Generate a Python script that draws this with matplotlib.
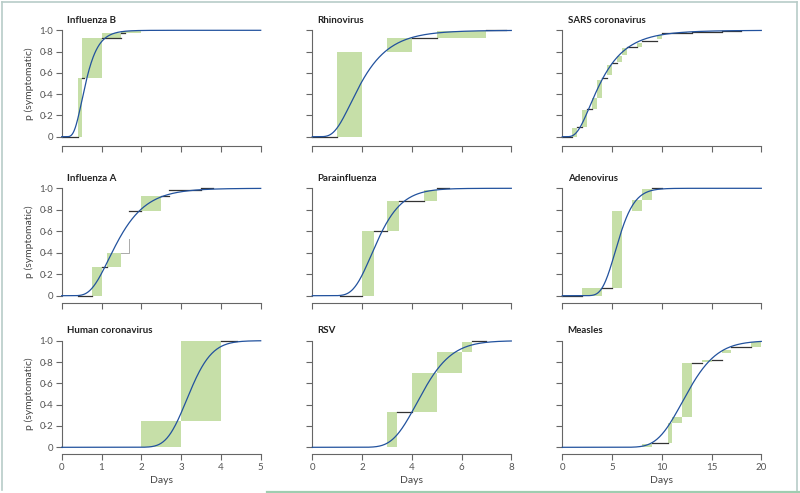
import math
import numpy as np
import matplotlib
matplotlib.use('Agg')
import matplotlib.pyplot as plt
from matplotlib.patches import Rectangle
from matplotlib.lines import Line2D
from matplotlib.ticker import FuncFormatter

plt.rcParams['font.family'] = ['Lato', 'DejaVu Sans']

# ----------------------------
# Data
# ----------------------------
names = ['Influenza B', 'Rhinovirus', 'SARS coronavirus',
         'Influenza A', 'Parainfluenza', 'Adenovirus',
         'Human coronavirus', 'RSV', 'Measles']
x_max = [5, 8, 20, 5, 8, 20, 5, 8, 20]
x_ticks = [[0, 1, 2, 3, 4, 5], [0, 2, 4, 6, 8], [0, 5, 10, 15, 20]] * 3

# fitted log-normal: median (days) and dispersion
medians = [0.6, 1.95, 3.8, 1.4, 2.6, 5.6, 3.2, 4.4, 12.5]
dispersions = [1.51, 1.62, 1.75, 1.51, 1.35, 1.26, 1.15, 1.24, 1.21]

# green boxes (x0, x1, y0, y1)
boxes = [
    [(0.4, 0.5, 0.0, 0.55), (0.5, 1.0, 0.55, 0.93), (1.0, 1.5, 0.93, 0.97), (1.5, 2.0, 0.97, 0.99)],
    [(1.0, 2.0, 0.0, 0.80), (3.0, 4.0, 0.80, 0.93), (5.0, 7.0, 0.93, 0.99)],
    [(1.0, 1.5, 0.0, 0.08), (2.0, 2.5, 0.09, 0.25), (3.0, 3.5, 0.26, 0.36), (3.5, 4.0, 0.36, 0.53),
     (4.5, 5.0, 0.58, 0.67), (5.5, 6.0, 0.70, 0.76), (6.0, 6.5, 0.77, 0.83), (7.5, 8.0, 0.84, 0.88),
     (9.5, 10.0, 0.92, 0.96), (12.0, 12.5, 0.97, 0.98)],
    [(0.75, 1.0, 0.0, 0.27), (1.13, 1.5, 0.27, 0.40), (2.0, 2.5, 0.785, 0.93)],
    [(2.0, 2.5, 0.0, 0.60), (3.0, 3.5, 0.60, 0.88), (4.5, 5.0, 0.88, 0.985)],
    [(2.0, 4.0, 0.0, 0.075), (5.0, 6.0, 0.075, 0.79), (7.0, 8.0, 0.79, 0.89), (8.0, 9.0, 0.89, 0.99)],
    [(2.0, 3.0, 0.0, 0.25), (3.0, 4.0, 0.25, 1.0)],
    [(3.0, 3.4, 0.0, 0.33), (4.0, 5.0, 0.33, 0.70), (5.0, 6.0, 0.70, 0.89), (6.0, 6.4, 0.89, 0.99)],
    [(8.0, 9.0, 0.0, 0.03), (10.6, 11.0, 0.045, 0.225), (11.0, 12.0, 0.225, 0.28), (12.0, 13.0, 0.28, 0.79),
     (14.0, 15.0, 0.80, 0.82), (16.0, 17.0, 0.88, 0.91), (19.0, 20.0, 0.94, 0.99)],
]

# dark horizontal segments (x0, x1, y)
segments = [
    [(0.0, 0.4, 0.0), (0.5, 0.55, 0.55), (1.0, 1.5, 0.93), (1.5, 1.6, 0.97)],
    [(0.0, 1.0, 0.0), (4.0, 5.0, 0.93), (7.0, 7.8, 1.0)],
    [(0.0, 1.0, 0.0), (1.5, 2.0, 0.09), (2.5, 3.0, 0.26), (4.0, 4.5, 0.55), (5.0, 5.5, 0.69),
     (6.5, 7.5, 0.84), (8.0, 9.5, 0.90), (10.0, 13.0, 0.97), (13.0, 16.0, 0.985), (16.0, 18.0, 0.995)],
    [(0.4, 0.75, 0.0), (1.0, 1.13, 0.27), (1.7, 2.0, 0.785), (2.5, 2.7, 0.93), (2.7, 3.5, 0.98), (3.5, 3.8, 1.0)],
    [(1.1, 2.0, 0.0), (2.5, 3.0, 0.60), (3.5, 4.5, 0.88), (5.0, 5.5, 1.0)],
    [(0.0, 2.0, 0.0), (4.0, 5.0, 0.075), (9.0, 10.0, 1.0)],
    [(4.0, 4.4, 1.0)],
    [(3.4, 4.0, 0.33), (6.4, 7.0, 1.0)],
    [(9.0, 10.6, 0.045), (13.0, 14.0, 0.79), (15.0, 16.0, 0.82), (17.0, 19.0, 0.94)],
]

# light grey step in the Influenza A panel (x0, x1, y0, y1)
grey_step = (1.5, 1.7, 0.40, 0.53)

# ----------------------------
# Layout
# ----------------------------
W, H = 800, 493
col_left = [61.7, 312.3, 562.3]
row_top = [30.3, 188.3, 340.7]
row_zero = [136.7, 295.7, 447.3]
ax_w = 199.0

GREEN = '#c6dfa8'
BLUE = '#22529e'
DARK = '#333333'
SPINE = '#666666'

def lognorm_cdf(x, med, disp):
    s = math.log(disp)
    out = []
    for v in x:
        if v <= 0:
            out.append(0.0)
        else:
            out.append(0.5 * (1 + math.erf(math.log(v / med) / (s * math.sqrt(2)))))
    return np.array(out)

fmt = FuncFormatter(lambda v, p: '0' if abs(v) < 1e-9 else f'{v:.1f}'.replace('.', '\u00b7'))

fig = plt.figure(figsize=(W / 100, H / 100), dpi=100)

for i, name in enumerate(names):
    r, c = divmod(i, 3)
    left = col_left[c] / W
    bottom = 1 - row_zero[r] / H
    height = (row_zero[r] - row_top[r]) / H
    ax = fig.add_axes([left, bottom, ax_w / W, height])
    ax.set_xlim(0, x_max[i])
    ax.set_ylim(0, 1)

    for (x0, x1, y0, y1) in boxes[i]:
        ax.add_patch(Rectangle((x0, y0), x1 - x0, y1 - y0, facecolor=GREEN,
                               edgecolor='none', zorder=1))
    for (x0, x1, y) in segments[i]:
        ax.plot([x0, x1], [y, y], color=DARK, lw=0.9, zorder=2, clip_on=False)
    if i == 3:
        gx0, gx1, gy0, gy1 = grey_step
        ax.plot([gx0, gx1, gx1], [gy0, gy0, gy1], color='#aaaaaa', lw=0.7, zorder=2)

    xs = np.linspace(0, x_max[i], 400)
    ax.plot(xs, lognorm_cdf(xs, medians[i], dispersions[i]), color=BLUE, lw=0.9,
            zorder=3, clip_on=False)

    for s in ['top', 'right']:
        ax.spines[s].set_visible(False)
    ax.spines['left'].set_bounds(0, 1)
    ax.spines['bottom'].set_bounds(0, x_max[i])
    ax.spines['bottom'].set_position(('outward', 7 if r == 0 else 5))
    for s in ['left', 'bottom']:
        ax.spines[s].set_color(SPINE)
        ax.spines[s].set_linewidth(0.8)

    ax.set_yticks([0, 0.2, 0.4, 0.6, 0.8, 1.0])
    ax.set_xticks(x_ticks[i])
    ax.yaxis.set_major_formatter(fmt)
    ax.tick_params(direction='out', length=4, width=0.8, color=SPINE,
                   labelsize=7, labelcolor='#555555', pad=2)
    if c != 0:
        ax.tick_params(axis='y', labelleft=False)
    else:
        ax.set_ylabel('p (symptomatic)', fontsize=7.5, color='#444444', labelpad=4)
    if r != 2:
        ax.tick_params(axis='x', labelbottom=False)
    else:
        ax.set_xlabel('Days', fontsize=7.5, color='#444444', labelpad=3)

    ax.text(0.027, 1.05, name, transform=ax.transAxes, fontsize=7,
            fontweight='bold', color='#222222', ha='left', va='bottom')

# frame around the figure panel
BORDER = '#b8ccc8'
fig.add_artist(Line2D([1.5 / W, 1.5 / W], [1 - 490 / H, 1 - 1.5 / H], color=BORDER, lw=1.2))
fig.add_artist(Line2D([1.5 / W, 797 / W], [1 - 1.5 / H, 1 - 1.5 / H], color=BORDER, lw=1.2))
fig.add_artist(Line2D([797 / W, 797 / W], [1 - 1.5 / H, 1 - 491 / H], color=BORDER, lw=1.2))
fig.add_artist(Line2D([267 / W, 1.0], [1 - 491.5 / H, 1 - 491.5 / H], color='#9fcdb0', lw=1.6))

fig.savefig('out.png', dpi=100)
plt.close(fig)
